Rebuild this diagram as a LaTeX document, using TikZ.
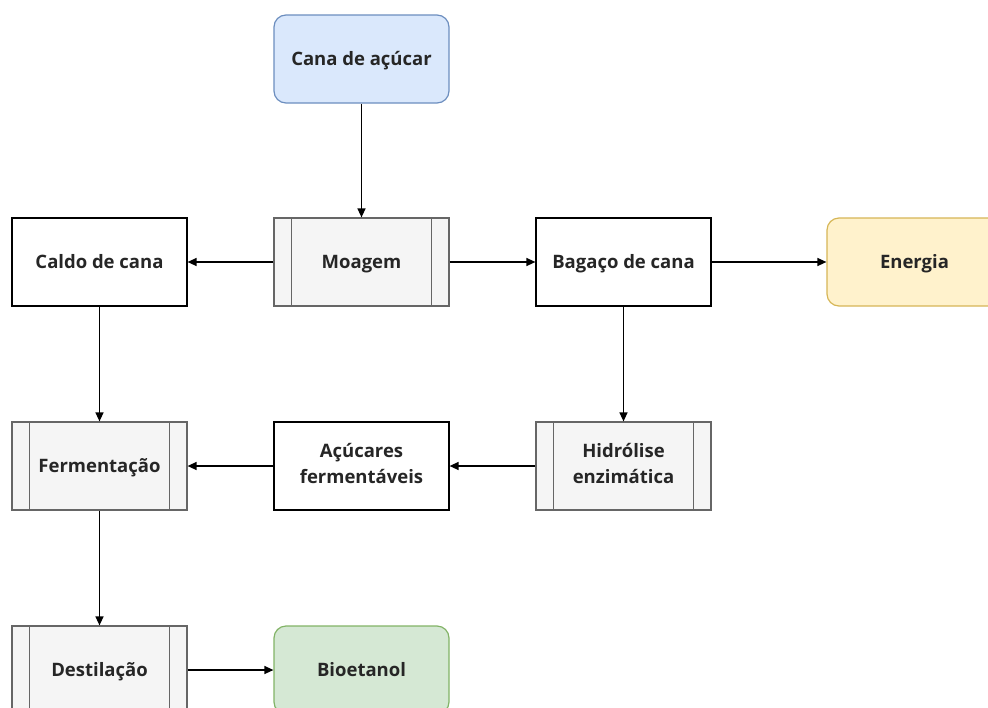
\documentclass[tikz,border=0pt]{standalone}
\usepackage{fontspec}
\setmainfont{Open Sans}
\usetikzlibrary{arrows.meta}
\definecolor{bluef}{HTML}{DAE8FC}\definecolor{blued}{HTML}{6C8EBF}
\definecolor{grayf}{HTML}{F5F5F5}\definecolor{grayd}{HTML}{666666}
\definecolor{yelf}{HTML}{FFF2CC}\definecolor{yeld}{HTML}{D6B656}
\definecolor{grnf}{HTML}{D5E8D4}\definecolor{grnd}{HTML}{82B366}
\begin{document}
\begin{tikzpicture}[x=1pt,y=-1pt,
  box/.style={minimum width=175pt,minimum height=88pt,inner sep=0pt,align=center,
    font=\fontsize{18.5}{26}\selectfont\bfseries,text=black!85,line width=1.2pt,
    execute at begin node=\vphantom{Ág}, execute at end node=\vphantom{Ág}},
  plain/.style={box,draw=black,fill=white},
  rbox/.style={box,rounded corners=12pt},
  proc/.style={box,draw=grayd,fill=grayf},
  procline/.style={draw=grayd,line width=1.2pt},
  arr/.style={-{Triangle[length=9pt,width=8pt]},line width=1.3pt,black}]
\useasboundingbox (0,0) rectangle (988,707);
\clip (0,0) rectangle (988,707);
\node[rbox,draw=blued,fill=bluef] (cana) at (361.5,59) {Cana de açúcar};
\node[proc] (moa) at (361.5,262) {Moagem};
\node[plain] (caldo) at (99.5,262) {Caldo de cana};
\node[plain] (bag) at (623.5,262) {Bagaço de cana};
\node[rbox,draw=yeld,fill=yelf] (ene) at (914.5,262) {Energia};
\node[proc] (fer) at (99.5,466) {Fermentação};
\node[plain] (acu) at (361.5,466) {Açúcares\\fermentáveis};
\node[proc] (hid) at (623.5,466) {Hidrólise\\enzimática};
\node[proc] (des) at (99.5,670) {Destilação};
\node[rbox,draw=grnd,fill=grnf] (bio) at (361.5,670) {Bioetanol};
\foreach \n in {moa,fer,hid,des}{
  \draw[procline] ([xshift=18pt]\n.north west) -- ([xshift=18pt]\n.south west);
  \draw[procline] ([xshift=-18pt]\n.north east) -- ([xshift=-18pt]\n.south east);
}
\draw[arr] (cana) -- (moa);
\draw[arr] (moa) -- (caldo);
\draw[arr] (moa) -- (bag);
\draw[arr] (bag) -- (ene);
\draw[arr] (caldo) -- (fer);
\draw[arr] (bag) -- (hid);
\draw[arr] (hid) -- (acu);
\draw[arr] (acu) -- (fer);
\draw[arr] (fer) -- (des);
\draw[arr] (des) -- (bio);
\end{tikzpicture}
\end{document}
